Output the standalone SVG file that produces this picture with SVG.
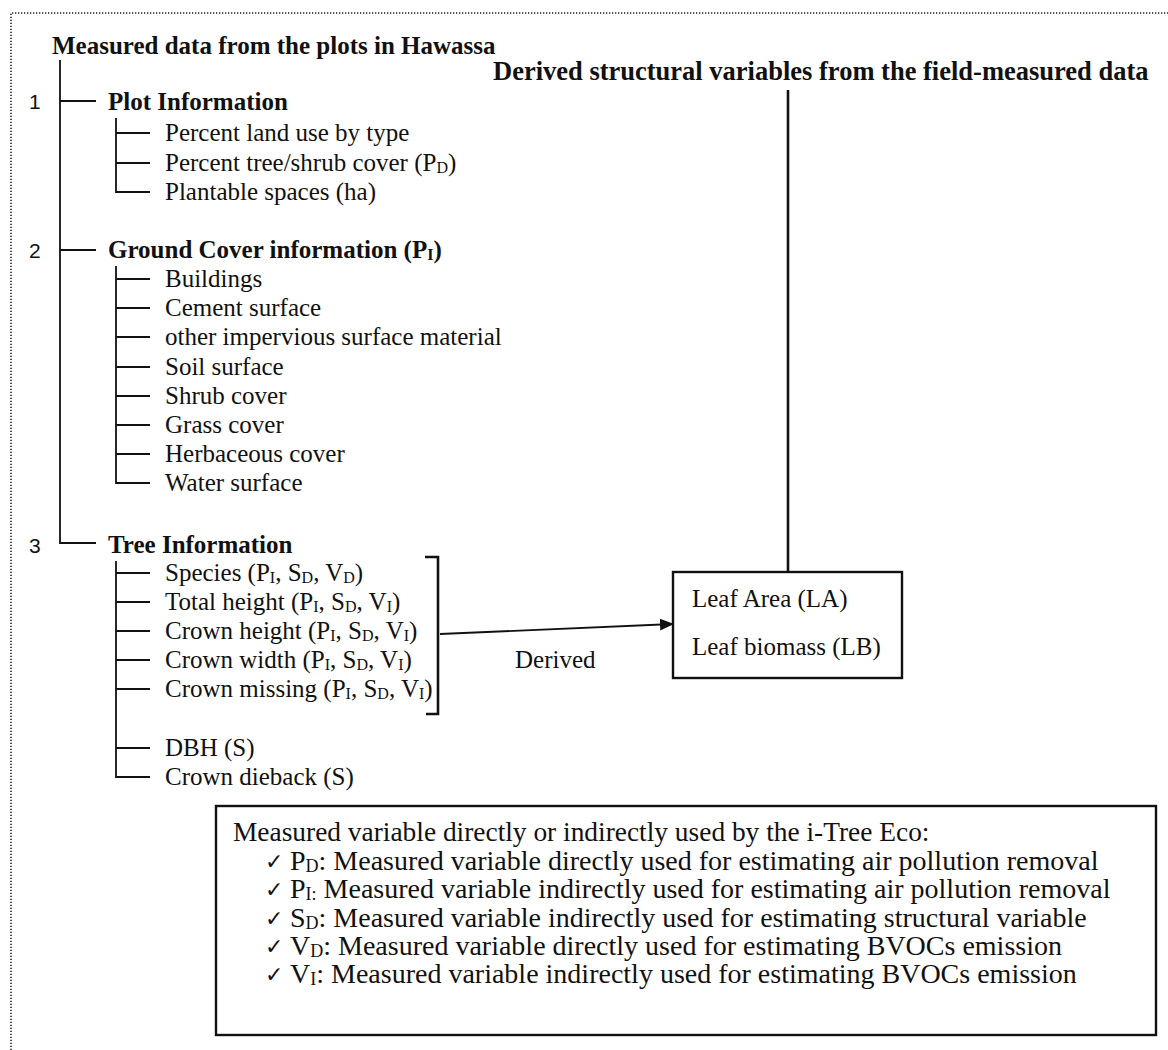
<svg xmlns="http://www.w3.org/2000/svg" width="1168" height="1050" viewBox="0 0 1168 1050">
<style>
text{font-family:"Liberation Serif","Times New Roman",serif;fill:#111;}
.t{font-size:25px;}
.b{font-size:25px;font-weight:bold;}
.bd{font-size:26.5px;font-weight:bold;}
.n{font-family:"Liberation Sans",Arial,sans-serif;font-size:21px;}
.lh{font-size:27.4px;}
.lg{font-size:28px;}
.ck{font-family:"DejaVu Sans",sans-serif;font-size:22px;}
.s{font-size:16px;}
.sl{font-size:18px;}
.ln{stroke:#111;stroke-width:1.8;fill:none;}
.thick{stroke:#111;stroke-width:2.6;fill:none;}
</style>
<defs>
<marker id="ah" markerWidth="14" markerHeight="12" refX="13" refY="6" orient="auto" markerUnits="userSpaceOnUse">
<path d="M0,0 L14,6 L0,12 Z" fill="#111"/>
</marker>
</defs>
<rect width="1168" height="1050" fill="#fff"/>
<path d="M11,1050 V13 H1168" fill="none" stroke="#222" stroke-width="1.6" stroke-dasharray="1.3 1.7"/>

<g id="connectors">
<path class="ln" d="M60,60 V543 H96"/>
<path class="ln" d="M60,101 H96"/>
<path class="ln" d="M60,250 H96"/>
<path class="ln" d="M116,118 V192 H150 M116,133 H150 M116,163 H150"/>
<path class="ln" d="M116,266 V483 H150 M116,279 H150 M116,308 H150 M116,337 H150 M116,367 H150 M116,396 H150 M116,425 H150 M116,454 H150"/>
<path class="ln" d="M116,561 V777 H150 M116,573 H150 M116,602 H150 M116,631 H150 M116,660 H150 M116,689 H150 M116,748 H150"/>
<path class="thick" d="M425,557 H438 V714 H426"/>
<path class="ln" d="M440,634 L673,624" marker-end="url(#ah)"/>
<path class="thick" d="M788,90 V572"/>
</g>

<g id="root">
<text class="b" x="52" y="54">Measured data from the plots in Hawassa</text>
</g>
<g id="derived-title">
<text class="bd" x="493" y="80">Derived structural variables from the field-measured data</text>
</g>

<g id="plot-info">
<text class="n" x="29" y="109">1</text>
<text class="b" x="108" y="110">Plot Information</text>
<text class="t" x="165" y="141">Percent land use by type</text>
<text class="t" x="165" y="171">Percent tree/shrub cover (P<tspan class="s" dy="2">D</tspan><tspan dy="-2">)</tspan></text>
<text class="t" x="165" y="200">Plantable spaces (ha)</text>
</g>

<g id="ground-cover">
<text class="n" x="29" y="258">2</text>
<text class="b" x="108" y="258">Ground Cover information (P<tspan class="s" dy="2">I</tspan><tspan dy="-2">)</tspan></text>
<text class="t" x="165" y="287">Buildings</text>
<text class="t" x="165" y="316">Cement surface</text>
<text class="t" x="165" y="345">other impervious surface material</text>
<text class="t" x="165" y="375">Soil surface</text>
<text class="t" x="165" y="404">Shrub cover</text>
<text class="t" x="165" y="433">Grass cover</text>
<text class="t" x="165" y="462">Herbaceous cover</text>
<text class="t" x="165" y="491">Water surface</text>
</g>

<g id="tree-info">
<text class="n" x="29" y="553">3</text>
<text class="b" x="108" y="553">Tree Information</text>
<text class="t" x="165" y="581">Species (P<tspan class="s" dy="2">I</tspan><tspan dy="-2">, S</tspan><tspan class="s" dy="2">D</tspan><tspan dy="-2">, V</tspan><tspan class="s" dy="2">D</tspan><tspan dy="-2">)</tspan></text>
<text class="t" x="165" y="610">Total height (P<tspan class="s" dy="2">I</tspan><tspan dy="-2">, S</tspan><tspan class="s" dy="2">D</tspan><tspan dy="-2">, V</tspan><tspan class="s" dy="2">I</tspan><tspan dy="-2">)</tspan></text>
<text class="t" x="165" y="639">Crown height (P<tspan class="s" dy="2">I</tspan><tspan dy="-2">, S</tspan><tspan class="s" dy="2">D</tspan><tspan dy="-2">, V</tspan><tspan class="s" dy="2">I</tspan><tspan dy="-2">)</tspan></text>
<text class="t" x="165" y="668">Crown width (P<tspan class="s" dy="2">I</tspan><tspan dy="-2">, S</tspan><tspan class="s" dy="2">D</tspan><tspan dy="-2">, V</tspan><tspan class="s" dy="2">I</tspan><tspan dy="-2">)</tspan></text>
<text class="t" x="165" y="697">Crown missing (P<tspan class="s" dy="2">I</tspan><tspan dy="-2">, S</tspan><tspan class="s" dy="2">D</tspan><tspan dy="-2">, V</tspan><tspan class="s" dy="2">I</tspan><tspan dy="-2">)</tspan></text>
<text class="t" x="165" y="756">DBH (S)</text>
<text class="t" x="165" y="785">Crown dieback (S)</text>
</g>

<g id="derived-label">
<text class="t" x="515" y="668">Derived</text>
</g>

<g id="leaf-box">
<rect x="673" y="572" width="229" height="106" fill="none" stroke="#111" stroke-width="2.4"/>
<text class="t" x="692" y="607">Leaf Area (LA)</text>
<text class="t" x="692" y="655">Leaf biomass (LB)</text>
</g>

<g id="legend">
<rect x="216" y="806" width="940" height="229" fill="none" stroke="#111" stroke-width="2.4"/>
<text class="lh" x="233" y="841">Measured variable directly or indirectly used by the i-Tree Eco:</text>
<text class="ck" x="265" y="869">✓</text>
<text class="lg" x="290" y="870">P<tspan class="sl" dy="2">D</tspan><tspan dy="-2">: Measured variable directly used for estimating air pollution removal</tspan></text>
<text class="ck" x="265" y="897">✓</text>
<text class="lg" x="290" y="898">P<tspan class="sl" dy="2">I:</tspan><tspan dy="-2"> Measured variable indirectly used for estimating air pollution removal</tspan></text>
<text class="ck" x="265" y="926">✓</text>
<text class="lg" x="290" y="927">S<tspan class="sl" dy="2">D</tspan><tspan dy="-2">: Measured variable indirectly used for estimating structural variable</tspan></text>
<text class="ck" x="265" y="954">✓</text>
<text class="lg" x="290" y="955">V<tspan class="sl" dy="2">D</tspan><tspan dy="-2">: Measured variable directly used for estimating BVOCs emission</tspan></text>
<text class="ck" x="265" y="982">✓</text>
<text class="lg" x="290" y="983">V<tspan class="sl" dy="2">I</tspan><tspan dy="-2">: Measured variable indirectly used for estimating BVOCs emission</tspan></text>
</g>
</svg>
